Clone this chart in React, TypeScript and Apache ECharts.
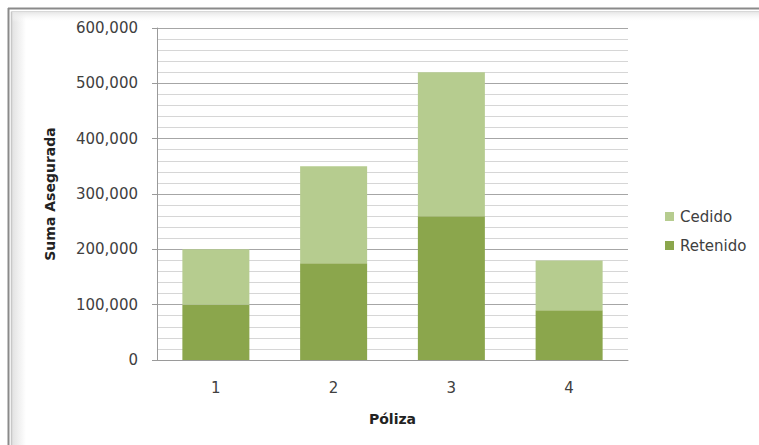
import React, { useEffect, useRef } from "react";
import * as echarts from "echarts";

const categories = ["1", "2", "3", "4"];
const retenido = [100000, 175000, 260000, 90000];
const cedido = [100000, 175000, 260000, 90000];
const yTicks = [0, 100000, 200000, 300000, 400000, 500000, 600000];

const FONT = "DejaVu Sans";

export default function App() {
  const ref = useRef<HTMLDivElement>(null);

  useEffect(() => {
    if (!ref.current) return;
    const chart = echarts.init(ref.current, null, { renderer: "svg" });

    const fmt = (v: number) => v.toLocaleString("en-US");

    chart.setOption({
      animation: false,
      backgroundColor: "#ffffff",
      graphic: [
        // frame shading
        {
          type: "rect",
          shape: { x: 12, y: 12, width: 14, height: 433 },
          style: {
            fill: new echarts.graphic.LinearGradient(0, 0, 1, 0, [
              { offset: 0, color: "#e2e2e2" },
              { offset: 1, color: "#ffffff" },
            ]),
          },
          silent: true,
        },
        {
          type: "rect",
          shape: { x: 12, y: 12, width: 747, height: 10 },
          style: {
            fill: new echarts.graphic.LinearGradient(0, 0, 0, 1, [
              { offset: 0, color: "#e6e6e6" },
              { offset: 1, color: "rgba(255,255,255,0)" },
            ]),
          },
          silent: true,
        },
        {
          type: "line",
          shape: { x1: 8, y1: 8.5, x2: 759, y2: 8.5 },
          style: { stroke: "#8a8a8a", lineWidth: 2 },
          silent: true,
        },
        {
          type: "line",
          shape: { x1: 8.5, y1: 8, x2: 8.5, y2: 445 },
          style: { stroke: "#8a8a8a", lineWidth: 2 },
          silent: true,
        },
        {
          type: "line",
          shape: { x1: 11.5, y1: 11.5, x2: 759, y2: 11.5 },
          style: { stroke: "#d8d8d8", lineWidth: 1 },
          silent: true,
        },
        {
          type: "line",
          shape: { x1: 11.5, y1: 11.5, x2: 11.5, y2: 445 },
          style: { stroke: "#c8c8c8", lineWidth: 1.5 },
          silent: true,
        },
      ],
      grid: { left: 157, right: 131, top: 28, bottom: 85, containLabel: false },
      legend: {
        orient: "vertical",
        left: 660,
        top: 204,
        itemWidth: 9,
        itemHeight: 9,
        itemGap: 14,
        icon: "rect",
        data: ["Cedido", "Retenido"],
        textStyle: { fontFamily: FONT, fontSize: 15, color: "#404040", padding: [0, 0, 0, 1] },
      },
      xAxis: {
        type: "category",
        data: categories,
        name: "Póliza",
        nameLocation: "middle",
        nameGap: 52,
        nameTextStyle: { fontFamily: FONT, fontSize: 14, fontWeight: "bold", color: "#222" },
        axisLine: { show: true, lineStyle: { color: "#9a9a9a", width: 1 } },
        axisTick: { show: false },
        axisLabel: { fontFamily: FONT, fontSize: 15, color: "#404040", margin: 20 },
        splitLine: { show: false },
      },
      yAxis: {
        type: "value",
        min: yTicks[0],
        max: yTicks[yTicks.length - 1],
        interval: 100000,
        name: "Suma Asegurada",
        nameLocation: "middle",
        nameGap: 100,
        nameRotate: 90,
        nameTextStyle: { fontFamily: FONT, fontSize: 14, fontWeight: "bold", color: "#222" },
        axisLine: { show: true, lineStyle: { color: "#9a9a9a", width: 1 } },
        axisTick: { show: true, length: 5, lineStyle: { color: "#9a9a9a" } },
        axisLabel: {
          fontFamily: FONT,
          fontSize: 15,
          color: "#404040",
          margin: 19,
          formatter: (v: number) => fmt(v),
        },
        splitLine: { show: true, lineStyle: { color: "#a6a6a6", width: 1 } },
        minorTick: { show: false, splitNumber: 5 },
        minorSplitLine: { show: true, lineStyle: { color: "#d6d6d6", width: 1 } },
      },
      series: [
        {
          name: "Retenido",
          type: "bar",
          stack: "total",
          data: retenido,
          barWidth: 67,
          itemStyle: { color: "#8ba64c" },
        },
        {
          name: "Cedido",
          type: "bar",
          stack: "total",
          data: cedido,
          barWidth: 67,
          itemStyle: { color: "#b6cc8f" },
        },
      ],
    });

    return () => chart.dispose();
  }, []);

  return <div ref={ref} style={{ width: 759, height: 445, position: "absolute", left: 0, top: 0 }} />;
}
